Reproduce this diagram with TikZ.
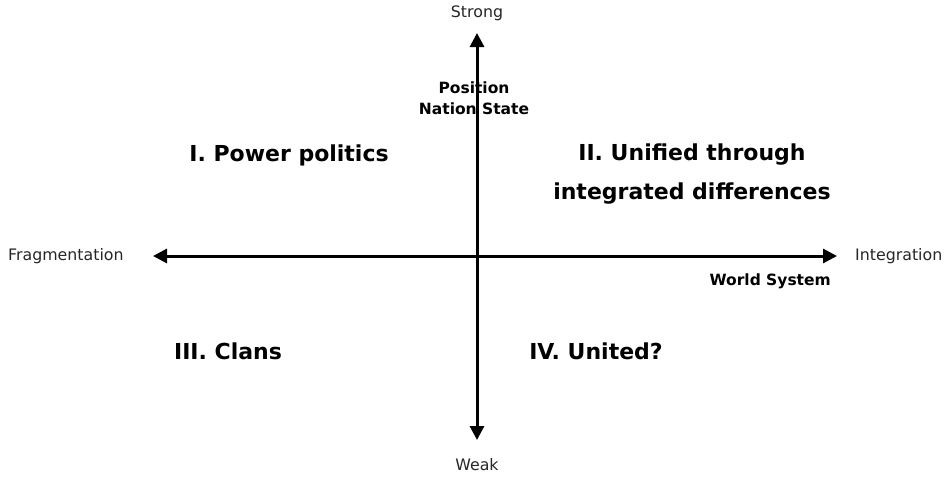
\documentclass[tikz,border=0pt]{standalone}
\usepackage{fontspec}
\setmainfont{DejaVu Sans}
\usetikzlibrary{arrows.meta}
\begin{document}
\begin{tikzpicture}[x=1pt,y=-1pt,
  axis/.style={line width=3pt,{Triangle[length=14pt,width=14pt]}-{Triangle[length=14pt,width=14pt]}},
  axislabel/.style={font=\fontsize{15.8}{18}\selectfont,text=black!85,inner sep=0pt},
  tag/.style={font=\fontsize{15.5}{21}\selectfont\bfseries,inner sep=0pt,align=center},
  quadrant/.style={font=\fontsize{22}{39}\selectfont\bfseries,inner sep=0pt,align=center}]
\useasboundingbox (0,0) rectangle (946,477);
% axis end points
\coordinate (top) at (477,33);
\coordinate (bottom) at (477,440);
\coordinate (left) at (153,256);
\coordinate (right) at (837,256);
% axes
\draw[axis] (bottom) -- (top);
\draw[axis] (left) -- (right);
% axis labels
\node[axislabel] (strong) at (477,13) {Strong};
\node[axislabel] (weak) at (477,465) {Weak};
\node[axislabel,anchor=west] (frag) at (8,256) {Fragmentation};
\node[axislabel,anchor=west] (integ) at (855,256) {Integration};
% axis tags
\node[tag] (nation) at (474,98) {Position\\Nation State};
\node[tag,anchor=east] (world) at (831,281) {World System};
% quadrants
\node[quadrant] (q1) at (289,155) {I. Power politics};
\node[quadrant] (q2) at (692,174) {II. Unified through\\integrated differences};
\node[quadrant] (q3) at (228,351) {III. Clans};
\node[quadrant] (q4) at (596,351) {IV. United?};
\end{tikzpicture}
\end{document}
